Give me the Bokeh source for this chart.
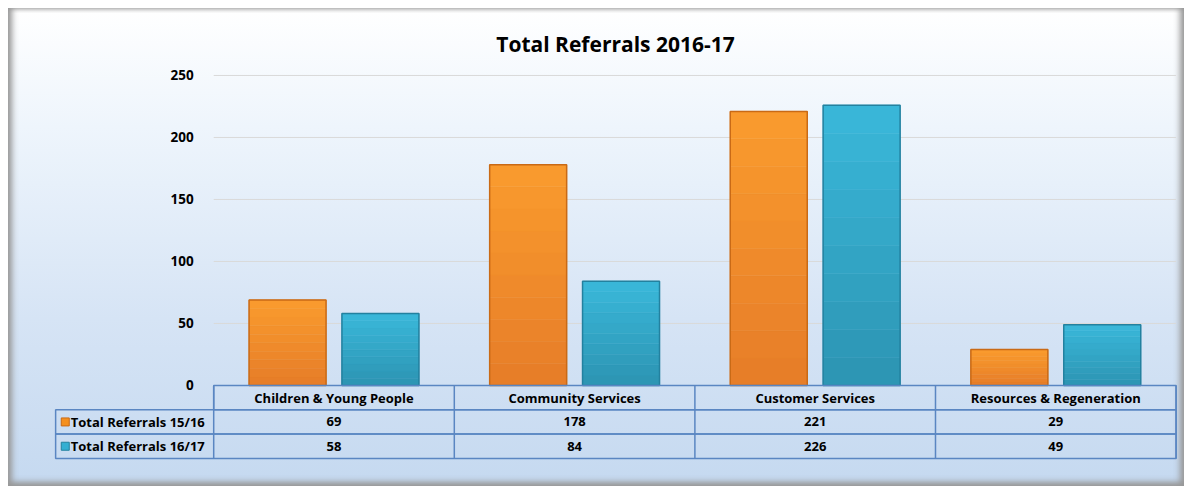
from bokeh.plotting import figure
from bokeh.models import LinearAxis, FixedTicker, ColumnDataSource, Range1d
from bokeh.core.properties import value
from bokeh.embed import file_html
from bokeh.resources import INLINE

# ---- data ----
categories = ["Children & Young People", "Community Services", "Customer Services", "Resources & Regeneration"]
series_names = ["Total Referrals 15/16", "Total Referrals 16/17"]
referrals_1516 = [69, 178, 221, 29]
referrals_1617 = [58, 84, 226, 49]
y_ticks = [0, 50, 100, 150, 200, 250]
title_text = "Total Referrals 2016-17"

# ---- styling / layout ----
FONT = "Open Sans"
ORANGE = "#F5901F"
ORANGE_TOP = (250, 156, 46)
ORANGE_BOT = (230, 124, 40)
ORANGE_LINE = "#C96A16"
TEAL = "#33AFD2"
TEAL_TOP = (58, 184, 218)
TEAL_BOT = (44, 148, 178)
TEAL_LINE = "#23819F"
TABLE_LINE = "#5A86C2"
GRID = "#D9D9D9"
BAR_W = 0.32
OFFSET = 0.193
ROW_H = 19.6
COL_LEFT = -0.657
BANDS = 10

n = len(categories)
p = figure(width=1176, height=478, output_backend="svg", toolbar_location=None,
           x_range=Range1d(-0.67, n + 0.01), y_range=Range1d(-60.5, 257.24),
           x_axis_location=None, y_axis_location=None,
           min_border_left=44, min_border_right=6, min_border_top=58, min_border_bottom=26,
           title=title_text)
p.border_fill_alpha = 0
p.background_fill_alpha = 0
p.outline_line_color = None
p.xgrid.visible = False
p.ygrid.visible = False
p.styles = {
    "margin-left": "8px",
    "margin-top": "8px",
    "background": "linear-gradient(to bottom, #ffffff 0%, #eef5fc 25%, #d6e4f5 65%, #c5d9f0 100%)",
    "box-shadow": "inset 6px 0 6px -2px #999999, inset -6px 0 6px -2px #999999, inset 0 -6px 6px -2px #999999, inset 0 3px 4px -2px #c0c0c0",
}

p.title.text_font = FONT
p.title.text_font_size = "21px"
p.title.text_font_style = "bold"
p.title.align = "center"
p.title.text_color = "#000000"
p.title.standoff = 18

yax = LinearAxis(ticker=FixedTicker(ticks=y_ticks), fixed_location=0,
                 axis_line_color=None, major_tick_line_color=None, minor_tick_line_color=None,
                 major_label_text_font=FONT, major_label_text_font_style="bold",
                 major_label_text_font_size="13.5px", major_label_text_color="#000000",
                 major_label_standoff=14)
p.add_layout(yax, "left")

grid_src = ColumnDataSource(dict(y=y_ticks[1:], x0=[0] * (len(y_ticks) - 1), x1=[n] * (len(y_ticks) - 1)))
p.segment(x0="x0", x1="x1", y0="y", y1="y", source=grid_src, line_color=GRID, line_width=1)

centers = [i + 0.5 for i in range(n)]
src = ColumnDataSource(dict(
    x1=[c - OFFSET for c in centers], x2=[c + OFFSET for c in centers],
    v1=referrals_1516, v2=referrals_1617,
    cat=categories,
    s1=[str(v) for v in referrals_1516], s2=[str(v) for v in referrals_1617],
    xc=centers,
))


def hexc(rgb):
    return "#%02x%02x%02x" % tuple(int(round(c)) for c in rgb)


def shaded(xs, vals, top_rgb, bot_rgb):
    # vertical gradient in bands derived from each bar's own value
    bx, btop, bbot, bcol = [], [], [], []
    for x, v in zip(xs, vals):
        for k in range(BANDS):
            t = (k + 0.5) / BANDS
            bx.append(x)
            bbot.append(v * k / BANDS)
            btop.append(v * (k + 1) / BANDS)
            bcol.append(hexc([b + (a - b) * t for a, b in zip(top_rgb, bot_rgb)]))
    p.vbar(x=bx, top=btop, bottom=bbot, width=BAR_W, fill_color=bcol, line_color=bcol, line_width=0.5)


shaded(src.data["x1"], referrals_1516, ORANGE_TOP, ORANGE_BOT)
shaded(src.data["x2"], referrals_1617, TEAL_TOP, TEAL_BOT)
p.vbar(x="x1", top="v1", bottom=0, width=BAR_W, source=src,
       fill_alpha=0, line_color=ORANGE_LINE, line_width=1.5)
p.vbar(x="x2", top="v2", bottom=0, width=BAR_W, source=src,
       fill_alpha=0, line_color=TEAL_LINE, line_width=1.5)

# ---- data table ----
p.quad(left=[0], right=[n], top=[0], bottom=[-ROW_H], fill_alpha=0,
       line_color=TABLE_LINE, line_width=1.5)
p.quad(left=[COL_LEFT, COL_LEFT], right=[n, n], top=[-ROW_H, -2 * ROW_H],
       bottom=[-2 * ROW_H, -3 * ROW_H], fill_alpha=0, line_color=TABLE_LINE, line_width=1.5)
vx = [float(i) for i in range(0, n + 1)]
p.segment(x0=vx, x1=vx, y0=[0] * len(vx), y1=[-3 * ROW_H] * len(vx),
          line_color=TABLE_LINE, line_width=1.5)

txt_kw = dict(text_font=value(FONT), text_font_style="bold", text_font_size="13px",
              text_color="#000000", text_baseline="middle")
p.text(x="xc", y=-ROW_H / 2, text="cat", source=src, text_align="center", **txt_kw)
p.text(x="xc", y=-1.5 * ROW_H, text="s1", source=src, text_align="center", **txt_kw)
p.text(x="xc", y=-2.5 * ROW_H, text="s2", source=src, text_align="center", **txt_kw)

p.rect(x=[COL_LEFT + 0.04] * 2, y=[-1.5 * ROW_H, -2.5 * ROW_H], width=8, height=8,
       width_units="screen", height_units="screen",
       fill_color=[ORANGE, TEAL], line_color=[ORANGE_LINE, TEAL_LINE], line_width=1)
p.text(x=[COL_LEFT + 0.063] * 2, y=[-1.5 * ROW_H, -2.5 * ROW_H], text=series_names,
       text_align="left", **txt_kw)

open("out.html", "w").write(file_html(p, INLINE))
